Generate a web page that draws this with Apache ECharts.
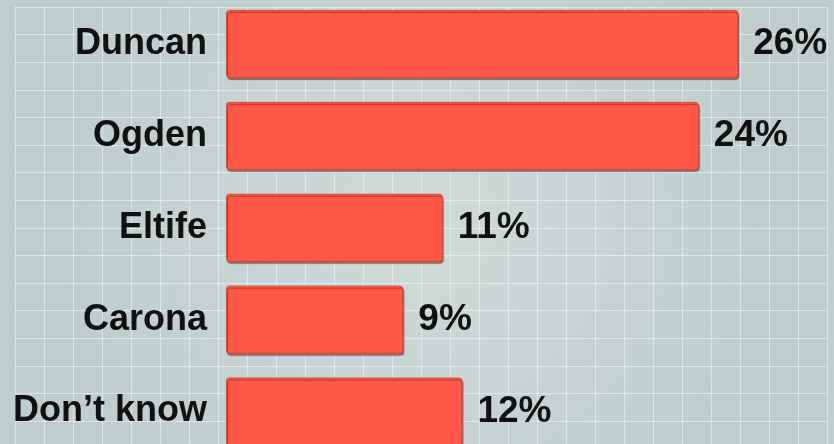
<!DOCTYPE html>
<html>
<head>
<meta charset="utf-8">
<script src="https://cdn.jsdelivr.net/npm/echarts@6/dist/echarts.min.js"></script>
<style>
  html, body { margin: 0; padding: 0; }
  #chart { width: 834px; height: 444px; }
</style>
</head>
<body>
<div id="chart"></div>
<script>
  // poll results
  const candidates = ['Duncan', 'Ogden', 'Eltife', 'Carona', 'Don\u2019t know'];
  const percents = [26, 24, 11, 9, 12];

  const chart = echarts.init(document.getElementById('chart'));
  const textFont = 'Liberation Sans';

  const option = {
    animation: false,
    backgroundColor: {
      type: 'radial', x: 0.5, y: 0.5, r: 0.8,
      colorStops: [
        { offset: 0, color: '#d0dbd9' },
        { offset: 1, color: '#bfcdcd' }
      ]
    },
    grid: [
      // background squares
      { left: 15, width: 812, top: 7, height: 441.6, show: false, outerBoundsMode: 'none' },
      // bars
      { left: 226, width: 591, top: -2, height: 459.5, outerBoundsMode: 'none' }
    ],
    xAxis: [
      {
        gridIndex: 0, type: 'value', min: 0, max: 812, interval: 29,
        axisLine: { show: false }, axisTick: { show: false }, axisLabel: { show: false },
        splitLine: { show: true, lineStyle: { color: 'rgba(255,255,255,0.45)', width: 1 } }
      },
      {
        gridIndex: 1, type: 'value', min: 0, max: 30,
        axisLine: { show: false }, axisTick: { show: false }, axisLabel: { show: false },
        splitLine: { show: false }
      }
    ],
    yAxis: [
      {
        gridIndex: 0, type: 'value', min: 0, max: 441.6, interval: 27.6, inverse: true,
        axisLine: { show: false }, axisTick: { show: false }, axisLabel: { show: false },
        splitLine: { show: true, lineStyle: { color: 'rgba(255,255,255,0.45)', width: 1 } }
      },
      {
        gridIndex: 1, type: 'category', data: candidates, inverse: true,
        axisLine: { show: false }, axisTick: { show: false },
        axisLabel: {
          margin: 19,
          color: '#111',
          fontFamily: textFont,
          fontWeight: 'bold',
          fontSize: 36
        }
      }
    ],
    series: [
      {
        type: 'bar',
        xAxisIndex: 1,
        yAxisIndex: 1,
        data: percents,
        barWidth: 68,
        itemStyle: {
          color: '#ff5846',
          borderColor: '#d9483b',
          borderWidth: 1,
          borderRadius: 3,
          shadowColor: 'rgba(110,30,20,0.55)',
          shadowOffsetX: 1,
          shadowOffsetY: 2,
          shadowBlur: 1
        },
        label: {
          show: true,
          position: 'right',
          distance: 15,
          formatter: '{c}%',
          color: '#111',
          fontFamily: textFont,
          fontWeight: 'bold',
          fontSize: 37
        }
      }
    ]
  };

  chart.setOption(option);
</script>
</body>
</html>
